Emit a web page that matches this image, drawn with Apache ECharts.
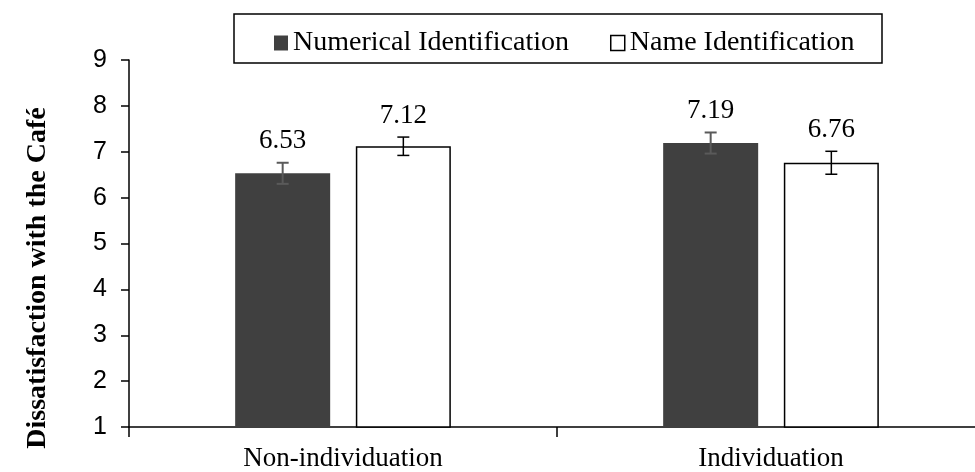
<!DOCTYPE html>
<html>
<head>
<meta charset="utf-8">
<script src="https://cdn.jsdelivr.net/npm/echarts@6/dist/echarts.min.js"></script>
<style>html,body{margin:0;padding:0;background:#fff;overflow:hidden;}#c{width:990px;height:472px;}</style>
</head>
<body>
<div id="c"></div>
<script>
const categories = ['Non-individuation', 'Individuation'];
const seriesNames = ['Numerical Identification', 'Name Identification'];
const numericalValues = [6.53, 7.19];
const nameValues = [7.12, 6.76];
const numericalErrors = [0.23, 0.23];
const nameErrors = [0.2, 0.25];
const yTicks = [1, 2, 3, 4, 5, 6, 7, 8, 9];

const BAR_PCT = 0.222, GAP = 0.27;
const serif = '"Liberation Serif", "Times New Roman", serif';

function errSeries(values, errs, sign, color, width) {
  return {
    type: 'custom',
    silent: true,
    z: 5,
    data: values.map((v, i) => [i, v - errs[i], v + errs[i], v]),
    renderItem: function (params, api) {
      const catW = api.size([1, 0])[0];
      const bw = catW * BAR_PCT;
      const off = sign * (bw * (1 + GAP)) / 2;
      const x = api.coord([api.value(0), 1])[0] + off;
      const yLo = api.coord([api.value(0), api.value(1)])[1];
      const yHi = api.coord([api.value(0), api.value(2)])[1];
      const cap = 6;
      const st = { stroke: color, lineWidth: width };
      return {
        type: 'group',
        children: [
          { type: 'line', shape: { x1: x, y1: yLo, x2: x, y2: yHi }, style: st },
          { type: 'line', shape: { x1: x - cap, y1: yLo, x2: x + cap, y2: yLo }, style: st },
          { type: 'line', shape: { x1: x - cap, y1: yHi, x2: x + cap, y2: yHi }, style: st },
          { type: 'text', style: { x: x, y: yHi - 8, text: api.value(3).toFixed(2), textAlign: 'center', textVerticalAlign: 'bottom', align: 'center', verticalAlign: 'bottom', fill: '#000', font: '27px ' + serif } }
        ]
      };
    }
  };
}

const chart = echarts.init(document.getElementById('c'));
chart.setOption({
  animation: false,
  backgroundColor: '#fff',
  grid: { left: 129, top: 60, width: 856, height: 367 },
  legend: {
    left: 269, top: 24,
    itemWidth: 14, itemHeight: 15, itemGap: 41,
    textStyle: { fontFamily: serif, fontSize: 28, color: '#000' },
    data: [
      { name: seriesNames[0], icon: 'rect', itemStyle: { color: '#404040', borderWidth: 0 } },
      { name: seriesNames[1], icon: 'rect', itemStyle: { color: '#fff', borderColor: '#000', borderWidth: 1.5 } }
    ]
  },
  graphic: [
    { type: 'rect', shape: { x: 234, y: 14, width: 648, height: 49 }, style: { fill: 'none', stroke: '#000', lineWidth: 1.5 }, z: 10 },
    { type: 'text', x: 38, y: 278, rotation: Math.PI / 2, style: { text: 'Dissatisfaction with the Café', x: 0, y: 0, textAlign: 'center', textVerticalAlign: 'middle', align: 'center', verticalAlign: 'middle', fill: '#000', font: 'bold 28px ' + serif } }
  ],
  xAxis: {
    type: 'category',
    data: categories,
    axisLine: { lineStyle: { color: '#000', width: 1.5 } },
    axisTick: { show: true, length: 10, lineStyle: { color: '#000', width: 1.5 } },
    axisLabel: { margin: 18, color: '#000', fontFamily: serif, fontSize: 27 },
    splitLine: { show: false }
  },
  yAxis: {
    type: 'value',
    min: yTicks[0], max: yTicks[yTicks.length - 1], interval: 1,
    axisLine: { show: true, lineStyle: { color: '#000', width: 1.5 } },
    axisTick: { show: true, length: 8, lineStyle: { color: '#000', width: 1.5 } },
    axisLabel: { margin: 22, color: '#000', fontFamily: '"Liberation Sans", Arial, sans-serif', fontSize: 25 },
    splitLine: { show: false }
  },
  series: [
    { name: seriesNames[0], type: 'bar', data: numericalValues, barWidth: (BAR_PCT * 100) + '%', barGap: (GAP * 100) + '%', itemStyle: { color: '#404040' } },
    { name: seriesNames[1], type: 'bar', data: nameValues, barWidth: (BAR_PCT * 100) + '%', barGap: (GAP * 100) + '%', itemStyle: { color: '#fff', borderColor: '#000', borderWidth: 1.5 } },
    errSeries(numericalValues, numericalErrors, -1, '#5a5a5a', 2),
    errSeries(nameValues, nameErrors, 1, '#000', 1.5)
  ]
});
</script>
</body>
</html>
